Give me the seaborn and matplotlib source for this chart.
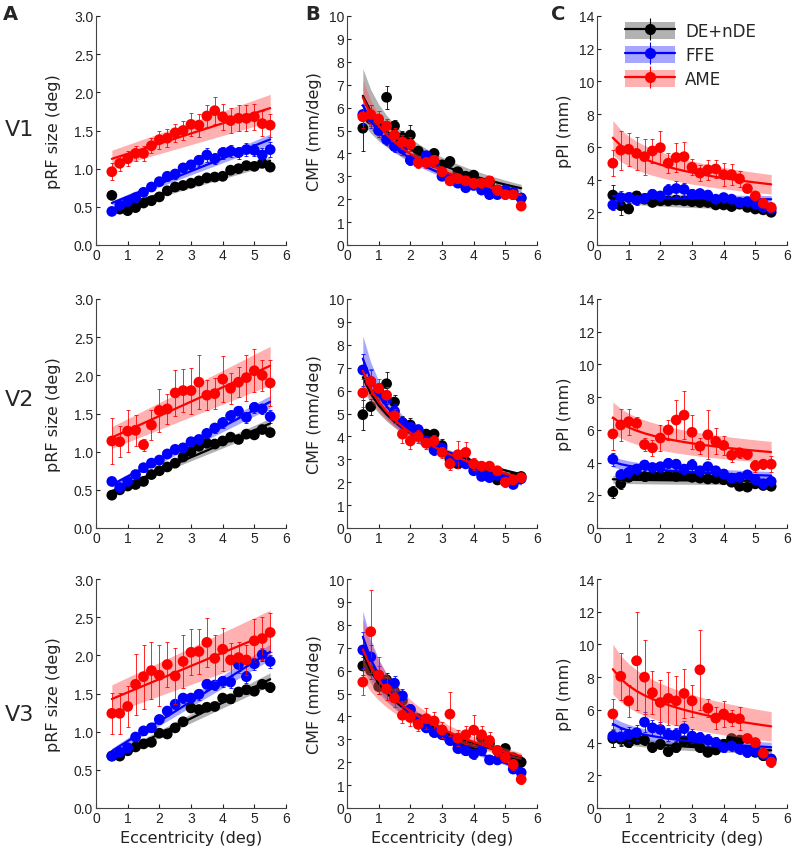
import numpy as np
import matplotlib
matplotlib.use("Agg")
import matplotlib.pyplot as plt
import seaborn as sns
from matplotlib.patches import Patch
from matplotlib.lines import Line2D
from matplotlib.legend_handler import HandlerTuple

# eccentricity bins (deg)
ecc = [0.5, 0.75, 1.0, 1.25, 1.5, 1.75, 2.0, 2.25, 2.5, 2.75, 3.0,
       3.25, 3.5, 3.75, 4.0, 4.25, 4.5, 4.75, 5.0, 5.25, 5.5]

groups = ["DE+nDE", "FFE", "AME"]
areas = ["V1", "V2", "V3"]

# ---- column A: pRF size (deg) ----
v1_size_de = [0.65, 0.47, 0.45, 0.49, 0.55, 0.58, 0.63, 0.71, 0.76, 0.78, 0.81, 0.84, 0.88, 0.89, 0.90, 0.98, 1.00, 1.04, 1.03, 1.07, 1.02]
v1_size_ffe = [0.44, 0.52, 0.57, 0.62, 0.69, 0.76, 0.83, 0.90, 0.93, 1.01, 1.05, 1.11, 1.18, 1.13, 1.21, 1.23, 1.21, 1.25, 1.24, 1.18, 1.25]
v1_size_ame = [0.96, 1.07, 1.13, 1.20, 1.20, 1.30, 1.38, 1.40, 1.47, 1.50, 1.58, 1.57, 1.69, 1.76, 1.68, 1.63, 1.66, 1.66, 1.68, 1.59, 1.57]
v1_size_de_err = [0.04, 0.03, 0.03, 0.03, 0.03, 0.03, 0.03, 0.03, 0.03, 0.03, 0.03, 0.03, 0.03, 0.04, 0.04, 0.04, 0.04, 0.04, 0.04, 0.04, 0.05]
v1_size_ffe_err = [0.03, 0.04, 0.04, 0.04, 0.04, 0.05, 0.05, 0.06, 0.06, 0.06, 0.07, 0.07, 0.09, 0.07, 0.08, 0.08, 0.08, 0.08, 0.08, 0.09, 0.10]
v1_size_ame_err = [0.11, 0.10, 0.10, 0.10, 0.10, 0.10, 0.12, 0.12, 0.12, 0.13, 0.15, 0.15, 0.15, 0.18, 0.17, 0.16, 0.17, 0.17, 0.17, 0.16, 0.15]

v2_size_de = [0.43, 0.50, 0.55, 0.57, 0.61, 0.70, 0.75, 0.80, 0.85, 0.93, 1.00, 1.07, 1.11, 1.10, 1.14, 1.19, 1.16, 1.23, 1.22, 1.29, 1.25]
v2_size_ffe = [0.61, 0.53, 0.61, 0.70, 0.79, 0.85, 0.89, 0.97, 1.03, 1.05, 1.13, 1.16, 1.24, 1.31, 1.38, 1.47, 1.53, 1.45, 1.58, 1.56, 1.46]
v2_size_ame = [1.14, 1.13, 1.27, 1.28, 1.09, 1.35, 1.54, 1.56, 1.77, 1.80, 1.80, 1.91, 1.74, 1.76, 1.95, 1.83, 1.91, 1.97, 2.06, 2.00, 1.90]
v2_size_de_err = [0.03, 0.03, 0.03, 0.03, 0.03, 0.03, 0.03, 0.03, 0.03, 0.03, 0.03, 0.03, 0.03, 0.03, 0.03, 0.03, 0.03, 0.04, 0.04, 0.04, 0.05]
v2_size_ffe_err = [0.04, 0.04, 0.04, 0.04, 0.05, 0.05, 0.05, 0.05, 0.06, 0.06, 0.06, 0.06, 0.06, 0.07, 0.07, 0.07, 0.07, 0.07, 0.07, 0.07, 0.08]
v2_size_ame_err = [0.30, 0.20, 0.28, 0.20, 0.08, 0.20, 0.28, 0.20, 0.30, 0.28, 0.30, 0.35, 0.20, 0.20, 0.30, 0.20, 0.20, 0.30, 0.28, 0.20, 0.30]

v3_size_de = [0.68, 0.68, 0.75, 0.80, 0.84, 0.86, 0.98, 0.97, 1.05, 1.13, 1.31, 1.29, 1.32, 1.33, 1.44, 1.43, 1.52, 1.55, 1.53, 1.62, 1.58]
v3_size_ffe = [0.68, 0.73, 0.79, 0.93, 1.01, 1.05, 1.16, 1.27, 1.36, 1.44, 1.44, 1.49, 1.62, 1.61, 1.66, 1.65, 1.88, 1.72, 1.89, 2.01, 1.92]
v3_size_ame = [1.24, 1.24, 1.33, 1.62, 1.72, 1.80, 1.74, 1.88, 1.73, 1.92, 2.04, 2.05, 2.17, 1.96, 2.08, 1.94, 1.97, 1.94, 2.19, 2.22, 2.30]
v3_size_de_err = [0.03, 0.03, 0.03, 0.03, 0.03, 0.03, 0.04, 0.04, 0.04, 0.04, 0.04, 0.04, 0.04, 0.04, 0.05, 0.05, 0.05, 0.05, 0.05, 0.05, 0.06]
v3_size_ffe_err = [0.05, 0.05, 0.05, 0.05, 0.05, 0.06, 0.06, 0.06, 0.06, 0.06, 0.06, 0.07, 0.07, 0.07, 0.07, 0.08, 0.08, 0.08, 0.08, 0.08, 0.09]
v3_size_ame_err = [0.27, 0.27, 0.27, 0.40, 0.42, 0.37, 0.40, 0.30, 0.37, 0.35, 0.30, 0.30, 0.32, 0.30, 0.28, 0.22, 0.20, 0.20, 0.28, 0.28, 0.25]

# ---- column B: CMF (mm/deg) ----
v1_cmf_de = [5.10, 5.50, 5.30, 6.45, 5.20, 4.70, 4.80, 4.10, 3.80, 4.00, 3.50, 3.65, 3.20, 3.00, 3.05, 2.70, 2.70, 2.40, 2.30, 2.20, 2.05]
v1_cmf_ffe = [5.70, 5.60, 5.00, 4.60, 4.30, 4.20, 3.70, 3.60, 3.90, 3.60, 3.00, 2.90, 2.70, 2.50, 2.60, 2.40, 2.20, 2.20, 2.40, 2.30, 2.05]
v1_cmf_ame = [5.60, 5.70, 5.50, 5.20, 4.80, 4.50, 4.40, 3.60, 3.60, 3.70, 3.20, 2.80, 2.90, 2.80, 2.70, 2.70, 2.80, 2.40, 2.20, 2.20, 1.70]
v1_cmf_de_err = [1.00, 0.30, 0.30, 0.50, 0.25, 0.30, 0.45, 0.20, 0.20, 0.20, 0.20, 0.20, 0.20, 0.15, 0.15, 0.15, 0.15, 0.15, 0.15, 0.15, 0.15]
v1_cmf_ffe_err = [0.40, 0.50, 0.30, 0.25, 0.25, 0.25, 0.20, 0.20, 0.20, 0.20, 0.15, 0.15, 0.15, 0.15, 0.15, 0.15, 0.15, 0.15, 0.15, 0.15, 0.15]
v1_cmf_ame_err = [0.50, 0.40, 0.35, 0.30, 0.30, 0.30, 0.30, 0.25, 0.25, 0.25, 0.20, 0.20, 0.20, 0.20, 0.20, 0.20, 0.20, 0.20, 0.20, 0.20, 0.15]

v2_cmf_de = [4.95, 5.30, 5.90, 6.30, 5.50, 4.60, 4.50, 4.20, 4.10, 4.10, 3.60, 3.00, 2.80, 2.90, 2.70, 2.60, 2.50, 2.10, 2.20, 2.20, 2.25]
v2_cmf_ffe = [6.90, 6.40, 6.00, 5.60, 5.10, 4.60, 4.40, 4.30, 3.80, 3.40, 3.50, 3.10, 2.90, 2.80, 2.50, 2.25, 2.20, 2.30, 2.10, 1.90, 2.15]
v2_cmf_ame = [5.90, 6.40, 6.10, 5.80, 4.90, 4.10, 3.80, 4.00, 3.70, 3.80, 3.30, 2.80, 3.20, 3.30, 2.80, 2.70, 2.70, 2.50, 2.00, 2.10, 2.20]
v2_cmf_de_err = [0.65, 0.35, 0.30, 0.50, 0.30, 0.30, 0.30, 0.20, 0.20, 0.20, 0.30, 0.20, 0.20, 0.15, 0.15, 0.15, 0.15, 0.20, 0.15, 0.15, 0.20]
v2_cmf_ffe_err = [0.70, 0.50, 0.35, 0.30, 0.30, 0.25, 0.25, 0.20, 0.20, 0.20, 0.20, 0.15, 0.15, 0.15, 0.15, 0.15, 0.15, 0.15, 0.15, 0.15, 0.15]
v2_cmf_ame_err = [0.60, 0.55, 0.40, 0.35, 0.30, 0.40, 0.35, 0.30, 0.25, 0.25, 0.25, 0.25, 0.60, 0.45, 0.25, 0.20, 0.20, 0.20, 0.20, 0.20, 0.20]

v3_cmf_de = [6.20, 6.00, 5.30, 5.60, 5.10, 4.70, 4.30, 3.90, 3.60, 3.50, 3.40, 3.00, 2.80, 2.80, 2.60, 3.05, 2.80, 2.50, 2.60, 2.20, 2.00]
v3_cmf_ffe = [6.90, 6.60, 5.80, 5.40, 5.45, 4.90, 4.30, 3.80, 3.50, 3.30, 3.20, 2.95, 2.60, 2.50, 2.35, 2.50, 2.10, 2.10, 2.20, 1.70, 1.55]
v3_cmf_ame = [5.50, 7.70, 5.80, 5.20, 4.80, 4.05, 3.95, 3.65, 3.90, 3.80, 3.40, 4.10, 3.05, 3.20, 3.40, 3.20, 2.95, 2.50, 2.20, 1.90, 1.25]
v3_cmf_de_err = [0.40, 0.35, 0.30, 0.30, 0.25, 0.25, 0.25, 0.20, 0.20, 0.20, 0.20, 0.20, 0.15, 0.15, 0.15, 0.20, 0.15, 0.15, 0.15, 0.15, 0.15]
v3_cmf_ffe_err = [0.80, 0.50, 0.40, 0.30, 0.30, 0.30, 0.25, 0.25, 0.20, 0.20, 0.20, 0.20, 0.20, 0.20, 0.20, 0.20, 0.20, 0.20, 0.20, 0.15, 0.15]
v3_cmf_ame_err = [0.55, 1.80, 0.80, 0.50, 0.40, 0.35, 0.35, 0.30, 0.45, 0.40, 0.35, 0.95, 0.35, 0.40, 0.65, 0.40, 0.35, 0.25, 0.25, 0.25, 0.20]

# ---- column C: pPI (mm) ----
v1_ppi_de = [3.05, 2.40, 2.20, 3.00, 2.80, 2.60, 2.70, 2.70, 2.75, 2.70, 2.65, 2.60, 2.60, 2.45, 2.45, 2.35, 2.50, 2.30, 2.20, 2.15, 2.00]
v1_ppi_ffe = [2.45, 2.90, 2.90, 2.75, 2.85, 3.10, 3.00, 3.35, 3.45, 3.40, 3.10, 3.15, 3.05, 2.80, 2.90, 2.80, 2.60, 2.65, 2.50, 2.30, 2.20]
v1_ppi_ame = [5.00, 5.80, 5.85, 5.60, 5.40, 5.75, 5.95, 5.00, 5.35, 5.40, 4.75, 4.40, 4.60, 4.65, 4.30, 4.30, 4.05, 3.45, 3.00, 2.55, 2.30]
v1_ppi_de_err = [0.60, 0.55, 0.25, 0.30, 0.25, 0.20, 0.20, 0.20, 0.20, 0.20, 0.20, 0.20, 0.20, 0.15, 0.15, 0.15, 0.15, 0.15, 0.15, 0.15, 0.15]
v1_ppi_ffe_err = [0.30, 0.40, 0.35, 0.30, 0.30, 0.30, 0.30, 0.40, 0.45, 0.40, 0.30, 0.30, 0.30, 0.25, 0.25, 0.25, 0.25, 0.20, 0.20, 0.20, 0.20]
v1_ppi_ame_err = [0.80, 1.20, 1.00, 1.00, 1.10, 0.75, 1.00, 0.60, 0.90, 0.90, 0.50, 0.50, 0.60, 0.55, 0.70, 0.65, 0.50, 0.20, 0.15, 0.15, 0.15]

v2_ppi_de = [2.20, 2.70, 3.10, 3.30, 3.15, 3.20, 3.20, 3.20, 3.15, 3.20, 3.10, 3.05, 3.00, 3.00, 2.95, 2.80, 2.55, 2.50, 2.70, 2.60, 2.55]
v2_ppi_ffe = [4.20, 3.25, 3.40, 3.60, 3.85, 3.70, 3.75, 3.95, 3.90, 3.60, 3.85, 3.50, 3.75, 3.50, 3.30, 3.05, 3.10, 3.25, 2.95, 2.70, 2.85]
v2_ppi_ame = [5.75, 6.30, 6.50, 6.40, 5.10, 4.90, 5.50, 6.00, 6.60, 6.90, 5.85, 5.00, 5.70, 5.30, 5.05, 4.45, 4.60, 4.50, 3.80, 3.90, 3.90]
v2_ppi_de_err = [0.35, 0.30, 0.25, 0.25, 0.30, 0.25, 0.25, 0.25, 0.20, 0.20, 0.20, 0.20, 0.20, 0.20, 0.20, 0.20, 0.20, 0.20, 0.20, 0.20, 0.20]
v2_ppi_ffe_err = [0.40, 0.35, 0.35, 0.30, 0.30, 0.30, 0.30, 0.30, 0.30, 0.30, 0.35, 0.30, 0.30, 0.30, 0.30, 0.25, 0.25, 0.25, 0.25, 0.25, 0.25]
v2_ppi_ame_err = [1.00, 1.00, 0.80, 0.40, 0.40, 0.50, 0.80, 0.60, 1.20, 1.45, 1.05, 0.50, 1.50, 0.80, 0.60, 0.40, 0.30, 0.30, 0.35, 0.30, 0.50]

v3_ppi_de = [4.25, 4.20, 4.00, 4.20, 4.15, 3.70, 3.90, 3.45, 3.70, 4.10, 4.00, 3.70, 3.40, 3.55, 3.90, 4.25, 4.15, 3.50, 3.40, 3.20, 2.95]
v3_ppi_ffe = [4.40, 4.35, 4.50, 4.60, 5.25, 4.90, 4.80, 4.50, 4.50, 4.85, 4.40, 4.30, 4.15, 4.00, 3.70, 3.80, 3.60, 3.40, 3.50, 3.30, 3.00]
v3_ppi_ame = [5.75, 8.05, 6.55, 9.00, 8.00, 7.05, 6.45, 6.70, 6.55, 7.00, 6.55, 8.45, 6.10, 5.50, 5.75, 5.50, 5.45, 4.25, 4.00, 3.35, 2.80]
v3_ppi_de_err = [0.50, 0.40, 0.30, 0.30, 0.30, 0.30, 0.30, 0.25, 0.25, 0.30, 0.30, 0.25, 0.25, 0.25, 0.30, 0.30, 0.30, 0.25, 0.25, 0.25, 0.25]
v3_ppi_ffe_err = [0.70, 0.50, 0.45, 0.45, 0.60, 0.50, 0.45, 0.40, 0.40, 0.45, 0.40, 0.35, 0.35, 0.35, 0.30, 0.30, 0.30, 0.30, 0.30, 0.30, 0.30]
v3_ppi_ame_err = [0.90, 1.45, 1.00, 3.00, 2.25, 1.30, 1.40, 1.60, 1.50, 1.50, 1.00, 2.45, 0.55, 0.70, 0.80, 0.50, 0.70, 0.30, 0.20, 0.20, 0.30]

# relative width of the shaded fit band, per area and group
band_size = [[0.05, 0.05, 0.10], [0.05, 0.05, 0.12], [0.05, 0.05, 0.13]]
band_cmf = [[0.028, 0.012, 0.018], [0.012, 0.018, 0.014], [0.015, 0.02, 0.028]]
band_ppi = [[0.08, 0.08, 0.16], [0.08, 0.08, 0.14], [0.06, 0.08, 0.18]]

colors = ["black", "#0000ff", "#ff0000"]
band_colors = ["#555555", "#3a3aff", "#ff5050"]

columns = [
    dict(name="size", ylabel="pRF size (deg)", ylim=3.0, yticks=np.arange(0, 3.01, 0.5), fmt="{:.1f}",
         band=band_size, model="lin", power=1, pad=9),
    dict(name="cmf", ylabel="CMF (mm/deg)", ylim=10, yticks=np.arange(0, 11, 1), fmt="{:.0f}",
         band=band_cmf, model="log", power=2, pad=5),
    dict(name="ppi", ylabel="pPI (mm)", ylim=14, yticks=np.arange(0, 15, 2), fmt="{:.0f}",
         band=band_ppi, model="log", power=1, pad=5),
]

sns.set_style("ticks")
plt.rcParams["font.family"] = ["DejaVu Sans"]

fig = plt.figure(figsize=(7.92, 8.53), dpi=100)
W, H = 792.0, 853.0
col_left = [96, 347, 597]
col_width = 190
row_top = [17, 300, 580]
row_height = 229

x = np.array(ecc)
for r, area in enumerate(areas):
    for c, col in enumerate(columns):
        ax = fig.add_axes([col_left[c] / W, 1 - (row_top[r] + row_height) / H,
                           col_width / W, row_height / H])
        for g, grp in enumerate(groups):
            key = f"{area.lower()}_{col['name']}_{['de', 'ffe', 'ame'][g]}"
            y = np.array(globals()[key])
            err = np.array(globals()[key + "_err"])
            # least-squares fit through the points
            if col["model"] == "lin":
                p = np.polyfit(x, y, 1)
                fit = np.polyval(p, x)
            else:
                p = np.polyfit(np.log(x), y, 1)
                fit = np.polyval(p, np.log(x))
            hw = col["band"][r][g] * fit ** col["power"]
            ax.fill_between(x, fit - hw, fit + hw, color=band_colors[g], alpha=0.45, lw=0, zorder=1 + g)
            ax.errorbar(x, y, yerr=err, fmt="none", ecolor=colors[g], elinewidth=0.7,
                        capsize=1.5, capthick=0.7, zorder=2 + g, alpha=0.85)
            sns.scatterplot(x=x, y=y, ax=ax, color=colors[g], s=60, edgecolor="none",
                            zorder=3 + g, legend=False)
            ax.plot(x, fit, color=colors[g], lw=1.6, zorder=3.5 + g)

        ax.set_xlim(0, 6)
        ax.set_ylim(0, col["ylim"])
        ax.set_xticks(range(0, 7))
        ax.set_yticks(col["yticks"])
        ax.set_yticklabels([col["fmt"].format(v) for v in col["yticks"]])
        ax.tick_params(direction="in", length=3, width=0.8, labelsize=10, colors="#222222",
                       labelcolor="#222222", pad=2)
        for lab in ax.get_xticklabels() + ax.get_yticklabels():
            lab.set_family("Liberation Sans")
        sns.despine(ax=ax)
        for sp in ["left", "bottom"]:
            ax.spines[sp].set_color("#444444")
            ax.spines[sp].set_linewidth(0.8)
        ax.set_ylabel(col["ylabel"], fontsize=11.5, labelpad=col["pad"], color="#222222")
        if r == 2:
            ax.set_xlabel("Eccentricity (deg)", fontsize=11.5, labelpad=4, color="#222222")

        if r == 0 and c == 2:
            handles = []
            for g in range(3):
                handles.append((Patch(facecolor=band_colors[g], alpha=0.45, edgecolor="none"),
                                Line2D([0], [0], color=colors[g], lw=1.6, marker="o",
                                       markersize=8, markeredgecolor="none"),
                                Line2D([0], [0], color=colors[g], marker="|", markersize=16,
                                       markeredgewidth=0.8, linestyle="none")))
            ax.legend(handles, groups, handler_map={tuple: HandlerTuple(ndivide=1)},
                      loc="upper left", bbox_to_anchor=(0.07, 1.04), frameon=False,
                      fontsize=12, handlelength=3.0, handleheight=1.2, labelspacing=0.35,
                      handletextpad=0.6, numpoints=1)

    fig.text(5 / W, 1 - [130, 400, 715][r] / H, area, fontsize=16, va="center", ha="left")

for lab, xp in zip(["A", "B", "C"], [3, 305, 551]):
    fig.text(xp / W, 1 - 14 / H, lab, fontsize=14, fontweight="bold", va="center", ha="left")

fig.savefig("out.png", dpi=100)
